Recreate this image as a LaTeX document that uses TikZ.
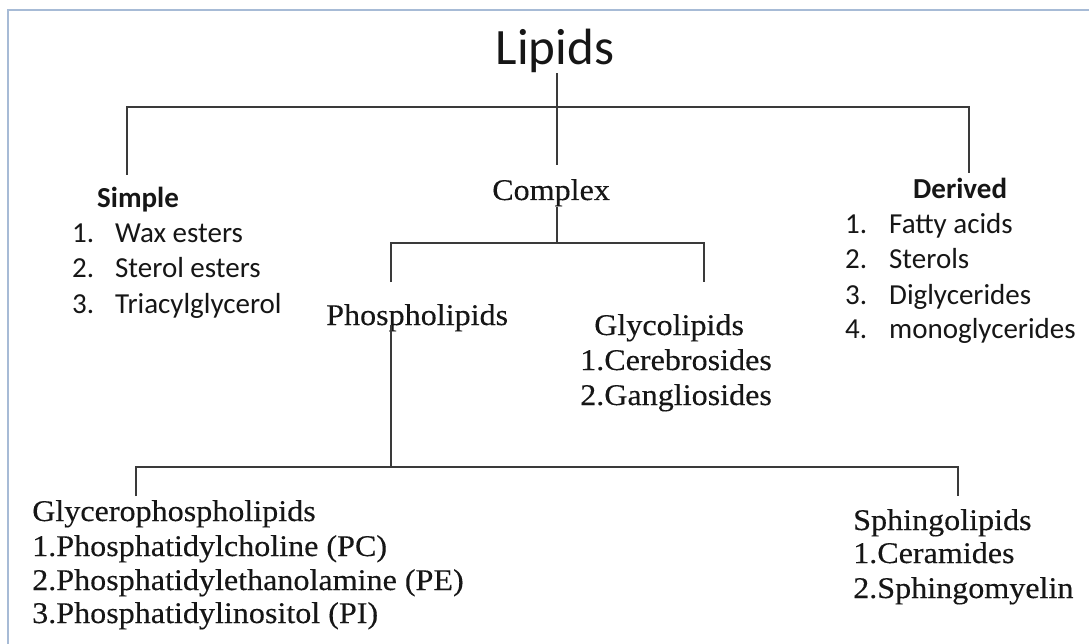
\documentclass[tikz,border=0pt]{standalone}
\usepackage{fontspec}
\setmainfont{Liberation Serif}
\newfontfamily\calib{Carlito}
\newfontfamily\geor[FakeStretch=1.07,FakeBold=0.25]{Liberation Serif}
\definecolor{linegray}{HTML}{3A3A3A}
\definecolor{bordercol}{HTML}{A7BBD6}
\definecolor{inkcol}{HTML}{161616}
\begin{document}
\begin{tikzpicture}[x=1pt,y=-1pt,
  sans/.style={font=\calib\fontsize{29}{34}\selectfont, text=inkcol, inner sep=0pt, anchor=base west},
  sansb/.style={sans, font=\calib\bfseries\fontsize{29}{34}\selectfont},
  serif/.style={font=\geor\fontsize{30}{34}\selectfont, text=inkcol, inner sep=0pt, anchor=base west},
  link/.style={draw=linegray, line width=1.3pt},
  frame/.style={draw=bordercol, line width=1.5pt}]
\useasboundingbox (0,0) rectangle (1089,644);
\fill[white] (0,0) rectangle (1089,644);
\draw[frame] (8,644) -- (8,10) -- (1089,10);

% top
\node[sans, font=\calib\fontsize{51}{60}\selectfont, anchor=base] (lipids) at (555,65) {Lipids};

% simple
\node[sansb] (simple) at (97,208) {Simple};
\node[sans] (s1) at (72,243) {\makebox[43pt][l]{1.}Wax esters};
\node[sans] (s2) at (72,278) {\makebox[43pt][l]{2.}Sterol esters};
\node[sans] (s3) at (72,313) {\makebox[43pt][l]{3.}Triacylglycerol};

% derived
\node[sansb] (derived) at (913,199) {Derived};
\node[sans] (d1) at (845,234) {\makebox[44pt][l]{1.}Fatty acids};
\node[sans] (d2) at (845,269) {\makebox[44pt][l]{2.}Sterols};
\node[sans] (d3) at (845,304) {\makebox[44pt][l]{3.}Diglycerides};
\node[sans] (d4) at (845,338) {\makebox[44pt][l]{4.}monoglycerides};

% complex
\node[serif] (complex) at (492,200) {Complex};
\node[serif] (phospho) at (326,325) {Phospholipids};
\node[serif] (glyco) at (594,335) {Glycolipids};
\node[serif] (g1) at (580,370) {1.Cerebrosides};
\node[serif] (g2) at (580,405) {2.Gangliosides};

% phospholipid classes
\node[serif] (glycero) at (32,521) {Glycerophospholipids};
\node[serif] (p1) at (32,556) {1.Phosphatidylcholine (PC)};
\node[serif] (p2) at (32,590) {2.Phosphatidylethanolamine (PE)};
\node[serif] (p3) at (32,623) {3.Phosphatidylinositol (PI)};
\node[serif] (sphingo) at (853,530) {Sphingolipids};
\node[serif] (sp1) at (853,563) {1.Ceramides};
\node[serif] (sp2) at (853,598) {2.Sphingomyelin};

% connector coordinates
\coordinate (bar1) at (557,107);
\coordinate (cS) at (127,175);
\coordinate (cD) at (969,173);
\coordinate (bar2) at (557,243);
\coordinate (cP) at (391,282);
\coordinate (cG) at (704,282);
\coordinate (bar3) at (391,467);
\coordinate (cGP) at (136,496);
\coordinate (cSP) at (958,496);

\draw[link, shorten >=14pt] (lipids.south -| bar1) -- (complex.north -| bar1);
\draw[link] (cS) |- (bar1) -| (cD);
\draw[link] (complex.south -| bar2) -- (bar2);
\draw[link] (cP) |- (bar2) -| (cG);
\draw[link] (phospho.base -| bar3) -- (bar3);
\draw[link] (cGP) |- (bar3) -| (cSP);
\end{tikzpicture}
\end{document}
